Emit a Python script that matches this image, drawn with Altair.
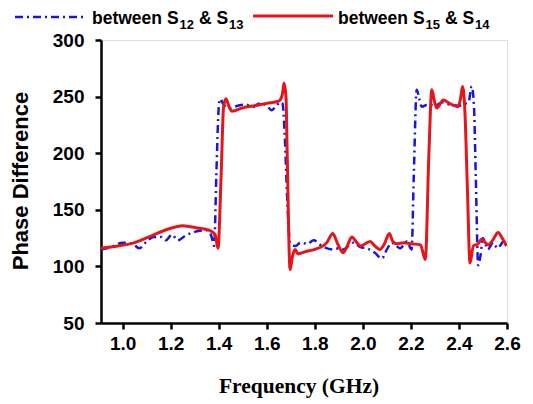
import altair as alt
import pandas as pd

# ---- data ----
freq_blue = [0.91, 0.95, 1.0, 1.04, 1.07, 1.1, 1.13, 1.16, 1.18, 1.205, 1.23, 1.26, 1.28, 1.31, 1.35,
             1.365, 1.372, 1.381, 1.39, 1.4, 1.406, 1.42, 1.448, 1.48, 1.51, 1.543, 1.57, 1.6, 1.62,
             1.64, 1.656, 1.665, 1.675, 1.685, 1.697, 1.72, 1.74, 1.77, 1.795, 1.83, 1.876, 1.9,
             1.919, 1.94, 1.96, 1.99, 2.016, 2.05, 2.079, 2.1, 2.12, 2.14, 2.155, 2.17, 2.183, 2.203,
             2.212, 2.224, 2.235, 2.245, 2.27, 2.3, 2.33, 2.36, 2.4, 2.43, 2.44, 2.453, 2.462, 2.47,
             2.48, 2.49, 2.5, 2.51, 2.52, 2.543, 2.56, 2.57, 2.585, 2.596]
phase_blue = [115, 117, 121, 120, 116, 122, 126, 126, 123, 128, 123, 127, 129, 131, 132,
              129, 125, 118, 180, 240, 248, 243, 240, 242, 243, 241, 244, 242, 238,
              242, 245, 244, 215, 160, 121, 118, 121, 120, 123, 118, 115, 116,
              115, 118, 121, 117, 116, 112, 107, 115, 121, 118, 116, 119, 122, 115,
              180, 256, 248, 241, 243, 242, 245, 243, 242, 244, 245, 259, 244, 180,
              101, 110, 125, 120, 115, 121, 116, 118, 122, 121]

freq_red = [0.91, 0.98, 1.05, 1.12, 1.19, 1.25, 1.31, 1.37, 1.385, 1.397, 1.41, 1.42, 1.43, 1.445,
            1.455, 1.5, 1.55, 1.6, 1.65, 1.665, 1.672, 1.68, 1.685, 1.697, 1.708, 1.718, 1.73,
            1.76, 1.8, 1.85, 1.875, 1.895, 1.918, 1.935, 1.954, 1.975, 1.99, 2.01, 2.03, 2.05,
            2.07, 2.09, 2.11, 2.125, 2.14, 2.17, 2.2, 2.24, 2.26, 2.275, 2.287, 2.3, 2.308, 2.335,
            2.36, 2.38, 2.397, 2.408, 2.415, 2.425, 2.435, 2.446, 2.46, 2.48, 2.494, 2.51, 2.522,
            2.54, 2.563, 2.58, 2.598]
phase_red = [116, 118, 121, 127, 133, 136, 134, 131, 128, 116, 180, 240, 248, 240,
             237, 240, 242, 244, 246, 252, 262, 250, 200, 97, 110, 115, 111,
             113, 115, 121, 129, 120, 112, 118, 126, 121, 118, 120, 122, 118,
             115, 120, 129, 122, 120, 121, 120, 119, 106, 200, 256, 244, 240, 247,
             244, 242, 241, 250, 259, 236, 170, 103, 118, 120, 124, 121, 119,
             123, 130, 125, 118]

x_ticks = [1.0, 1.2, 1.4, 1.6, 1.8, 2.0, 2.2, 2.4, 2.6]
y_ticks = [50, 100, 150, 200, 250, 300]

legend_main = ["between S", "& S", "between S", "& S"]
legend_sub = ["12", "13", "15", "14"]

BLUE = "#1616dc"
RED = "#e3161c"
W, H = 406, 283

df_blue = pd.DataFrame({"f": freq_blue, "p": phase_blue})
df_red = pd.DataFrame({"f": freq_red, "p": phase_red})
one = pd.DataFrame({"a": [0]})

xs = alt.Scale(domain=[0.91, 2.6], nice=False, zero=False)
ys = alt.Scale(domain=[50, 300], nice=False, zero=False)

xax = alt.Axis(values=x_ticks, format=".1f", title=None, grid=False, labelFont="Liberation Sans",
               labelFontWeight="bold", labelFontSize=19, labelColor="black", labelPadding=5,
               domainColor="black", domainWidth=2.5, tickColor="black", tickWidth=2.5, tickSize=6,
               labelFlush=False, labelOverlap=False)
yax = alt.Axis(values=y_ticks, title=None, grid=False, labelFont="Liberation Sans",
               labelFontWeight="bold", labelFontSize=19, labelColor="black", labelPadding=11,
               domainColor="black", domainWidth=2.5, tickColor="black", tickWidth=2.5, tickSize=6,
               labelFlush=False, labelOverlap=False)

blue = alt.Chart(df_blue).mark_line(color=BLUE, strokeWidth=2.5, strokeDash=[8, 4, 2, 4],
                                    interpolate="monotone", clip=True).encode(
    x=alt.X("f:Q", scale=xs, axis=xax),
    y=alt.Y("p:Q", scale=ys, axis=yax),
)
red = alt.Chart(df_red).mark_line(color=RED, strokeWidth=3, interpolate="monotone", clip=True).encode(
    x=alt.X("f:Q", scale=xs),
    y=alt.Y("p:Q", scale=ys),
)

def txt(s, x, y, size, font="Liberation Sans", angle=0, align="left", baseline="alphabetic"):
    kw = dict(font=font, fontWeight="bold", fontSize=size, color="black", align=align, baseline=baseline)
    if angle:
        kw["angle"] = angle
    return alt.Chart(one).mark_text(**kw).encode(x=alt.value(x), y=alt.value(y), text=alt.value(s))

main_y, sub_y = -16, -11
FS, SS = 17.5, 13
layers = [
    alt.Chart(one).mark_rule(color=BLUE, strokeWidth=2.5, strokeDash=[8, 4, 2, 4]).encode(
        x=alt.value(-86), x2=alt.value(-14), y=alt.value(-23)),
    alt.Chart(one).mark_rule(color=RED, strokeWidth=3).encode(
        x=alt.value(152), x2=alt.value(232), y=alt.value(-24)),
    txt(legend_main[0], -9, main_y, FS),
    txt(legend_sub[0], 78.5, sub_y, SS),
    txt(legend_main[1], 97.9, main_y, FS),
    txt(legend_sub[1], 128, sub_y, SS),
    txt(legend_main[2], 237, main_y, FS),
    txt(legend_sub[2], 324.5, sub_y, SS),
    txt(legend_main[3], 343.9, main_y, FS),
    txt(legend_sub[3], 374, sub_y, SS),
    txt("Phase Difference", -80, 141, 22, angle=270, align="center", baseline="middle"),
    txt("Frequency (GHz)", 198, 347, 21.5, font="Liberation Serif", align="center", baseline="middle"),
]

chart = alt.layer(blue, red, *layers).properties(
    width=W, height=H,
    autosize=alt.AutoSizeParams(type="none"),
    padding={"left": 93, "top": 32, "right": 15, "bottom": 85},
).configure_view(stroke="black", strokeWidth=2.5).configure(background="white")

chart.save("out.html", embed_options={"renderer": "svg", "actions": False})
